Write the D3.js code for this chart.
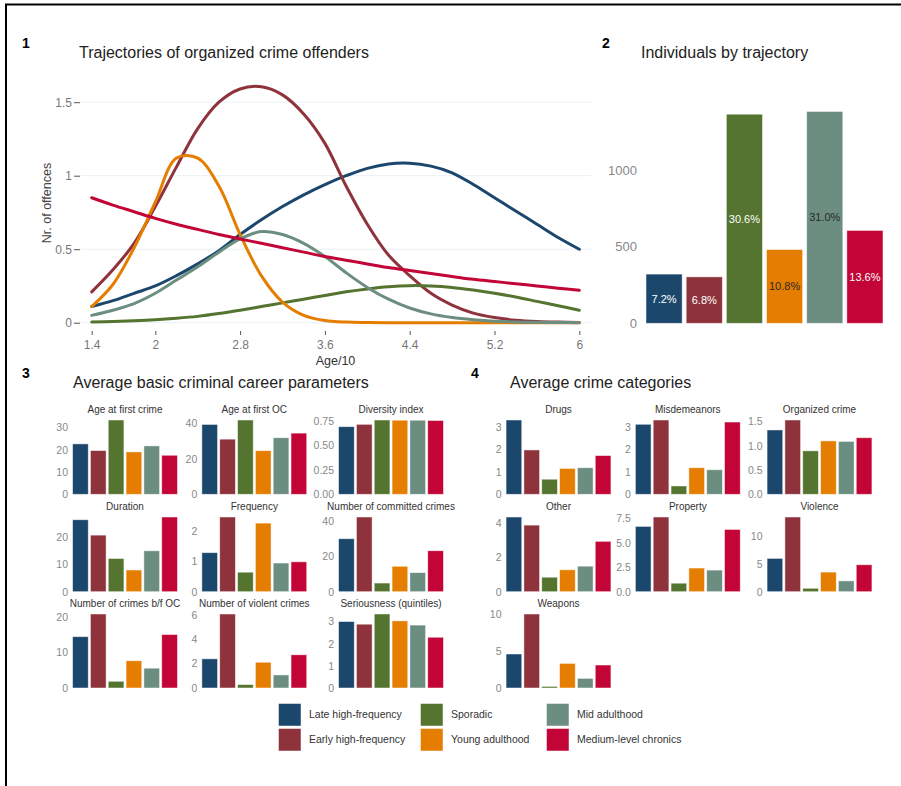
<!DOCTYPE html>
<html>
<head>
<meta charset="utf-8">
<script src="https://cdn.jsdelivr.net/npm/d3@7"></script>
<style>
body { margin: 0; background: #fff; }
svg text { font-family: "Liberation Sans", Arial, sans-serif; }
</style>
</head>
<body>
<div id="chart"></div>
<script>
const width = 901, height = 786;

const groups = ["Late high-frequency", "Early high-frequency", "Sporadic", "Young adulthood", "Mid adulthood", "Medium-level chronics"];
const colors = ["#1c476d", "#8e333c", "#54742f", "#e57e00", "#6c8e80", "#c20436"];

// panel 1: trajectories (Age/10 on x)
const ages = [1.4, 1.6, 1.8, 2.0, 2.2, 2.4, 2.6, 2.8, 3.0, 3.2, 3.4, 3.6, 3.8, 4.0, 4.2, 4.4, 4.6, 4.8, 5.0, 5.2, 5.4, 5.6, 5.8, 6.0];
const lateHighFreq = [0.11, 0.15, 0.20, 0.25, 0.32, 0.40, 0.49, 0.60, 0.70, 0.79, 0.87, 0.94, 1.00, 1.05, 1.08, 1.085, 1.065, 1.02, 0.94, 0.85, 0.76, 0.67, 0.58, 0.50];
const earlyHighFreq = [0.21, 0.36, 0.54, 0.79, 1.06, 1.32, 1.50, 1.59, 1.605, 1.55, 1.42, 1.22, 0.93, 0.67, 0.46, 0.32, 0.20, 0.12, 0.065, 0.035, 0.017, 0.008, 0.004, 0.002];
const sporadic = [0.005, 0.008, 0.013, 0.02, 0.03, 0.043, 0.062, 0.085, 0.11, 0.135, 0.16, 0.185, 0.21, 0.23, 0.245, 0.252, 0.25, 0.24, 0.222, 0.20, 0.175, 0.145, 0.115, 0.085];
const youngAdult = [0.11, 0.26, 0.51, 0.82, 1.12, 1.12, 0.93, 0.60, 0.32, 0.14, 0.05, 0.015, 0.004, 0.001, 0, 0, 0, 0, 0, 0, 0, 0, 0, 0];
const midAdult = [0.05, 0.085, 0.13, 0.20, 0.29, 0.38, 0.48, 0.57, 0.62, 0.60, 0.54, 0.45, 0.34, 0.24, 0.16, 0.10, 0.06, 0.035, 0.02, 0.01, 0.005, 0.003, 0.001, 0];
const mediumChronic = [0.85, 0.80, 0.755, 0.71, 0.67, 0.635, 0.60, 0.57, 0.54, 0.51, 0.48, 0.45, 0.425, 0.40, 0.375, 0.355, 0.335, 0.315, 0.295, 0.28, 0.265, 0.25, 0.235, 0.22];
const trajectories = [lateHighFreq, earlyHighFreq, sporadic, youngAdult, midAdult, mediumChronic];
const ageTicks = [1.4, 2, 2.8, 3.6, 4.4, 5.2, 6];
const offenceTicks = [0, 0.5, 1, 1.5];

// panel 2: individuals
const counts = [321, 303, 1364, 481, 1382, 606];
const countTicks = [0, 500, 1000];

// panel 3: career parameters
const ageFirstCrime = [22.6, 19.6, 33.3, 19.0, 21.7, 17.5];
const ageFirstOC = [39.4, 31.1, 41.9, 24.6, 31.9, 34.5];
const diversity = [0.689, 0.713, 0.757, 0.755, 0.755, 0.752];
const duration = [26.2, 20.6, 12.1, 7.9, 14.9, 27.2];
const frequency = [1.28, 2.45, 0.64, 2.25, 0.94, 0.98];
const nCommitted = [30.0, 42.3, 4.9, 14.4, 10.8, 23.2];
const nBeforeOC = [14.5, 20.9, 1.9, 7.7, 5.6, 15.1];
const nViolent = [2.39, 6.06, 0.28, 2.11, 1.07, 2.72];
const seriousness = [3.0, 2.88, 3.34, 3.03, 2.84, 2.29];

// panel 4: crime categories
const drugs = [3.30, 1.97, 0.67, 1.15, 1.18, 1.72];
const misdemeanors = [3.11, 3.30, 0.37, 1.18, 1.09, 3.21];
const organized = [1.325, 1.53, 0.895, 1.10, 1.09, 1.165];
const other = [4.33, 3.86, 0.84, 1.27, 1.48, 2.92];
const property = [6.68, 7.64, 0.87, 2.42, 2.21, 6.37];
const violence = [6.0, 13.45, 0.62, 3.53, 1.95, 4.85];
const weapons = [4.63, 10.08, 0.22, 3.35, 1.31, 3.13];

const careerFacets = [
  {title: "Age at first crime", values: ageFirstCrime, ticks: [0, 10, 20, 30], fmt: "d"},
  {title: "Age at first OC", values: ageFirstOC, ticks: [0, 20, 40], fmt: "d"},
  {title: "Diversity index", values: diversity, ticks: [0, 0.25, 0.5, 0.75], fmt: ".2f"},
  {title: "Duration", values: duration, ticks: [0, 10, 20], fmt: "d"},
  {title: "Frequency", values: frequency, ticks: [0, 1, 2], fmt: "d"},
  {title: "Number of committed crimes", values: nCommitted, ticks: [0, 20, 40], fmt: "d"},
  {title: "Number of crimes b/f OC", values: nBeforeOC, ticks: [0, 10, 20], fmt: "d"},
  {title: "Number of violent crimes", values: nViolent, ticks: [0, 2, 4, 6], fmt: "d"},
  {title: "Seriousness (quintiles)", values: seriousness, ticks: [0, 1, 2, 3], fmt: "d"}
];
const categoryFacets = [
  {title: "Drugs", values: drugs, ticks: [0, 1, 2, 3], fmt: "d"},
  {title: "Misdemeanors", values: misdemeanors, ticks: [0, 1, 2, 3], fmt: "d"},
  {title: "Organized crime", values: organized, ticks: [0, 0.5, 1, 1.5], fmt: ".1f"},
  {title: "Other", values: other, ticks: [0, 2, 4], fmt: "d"},
  {title: "Property", values: property, ticks: [0, 2.5, 5, 7.5], fmt: ".1f"},
  {title: "Violence", values: violence, ticks: [0, 5, 10], fmt: "d"},
  {title: "Weapons", values: weapons, ticks: [0, 5, 10], fmt: "d"}
];

const svg = d3.select("#chart").append("svg")
  .attr("width", width)
  .attr("height", height);

// frame
svg.append("path")
  .attr("d", "M6,786V4.5H901")
  .attr("fill", "none")
  .attr("stroke", "#000")
  .attr("stroke-width", 2);

function panelHeading(num, x, title, tx, y) {
  svg.append("text").attr("x", x).attr("y", y - 10)
    .attr("font-weight", "bold").style("font-size", "14px").attr("fill", "#000").text(num);
  svg.append("text").attr("x", tx).attr("y", y)
    .style("font-size", "16px").attr("fill", "#222").text(title);
}

// ---------- panel 1 ----------
panelHeading("1", 22, "Trajectories of organized crime offenders", 79, 58);

const x1 = d3.scaleLinear().domain([1.4, 6]).range([91.7, 579.3]);
const y1 = d3.scaleLinear().domain([0, 1.5]).range([322.7, 102.2]);

const p1 = svg.append("g");
p1.selectAll(".grid")
  .data(offenceTicks)
  .join("line")
  .attr("x1", 81).attr("x2", 591)
  .attr("y1", d => y1(d)).attr("y2", d => y1(d))
  .attr("stroke", "#e9eff5");

p1.append("g")
  .attr("transform", "translate(80,0)")
  .call(d3.axisLeft(y1).tickValues(offenceTicks).tickSize(6).tickPadding(2).tickFormat(d3.format("~g")))
  .call(g => g.select(".domain").remove())
  .call(g => g.selectAll("line").attr("stroke", "#555"))
  .call(g => g.selectAll("text").attr("fill", "#777").style("font-size", "12px"));

p1.append("g")
  .attr("transform", "translate(0,331)")
  .call(d3.axisBottom(x1).tickValues(ageTicks).tickSize(4).tickPadding(5).tickFormat(d3.format("~g")))
  .call(g => g.select(".domain").remove())
  .call(g => g.selectAll("line").attr("stroke", "#555"))
  .call(g => g.selectAll("text").attr("fill", "#777").style("font-size", "12px"));

p1.append("text")
  .attr("x", 335.5).attr("y", 365)
  .attr("text-anchor", "middle")
  .style("font-size", "12.5px").attr("fill", "#333")
  .text("Age/10");

p1.append("text")
  .attr("transform", "translate(51,203) rotate(-90)")
  .attr("text-anchor", "middle")
  .style("font-size", "12.5px").attr("fill", "#444")
  .text("Nr. of offences");

const line = d3.line()
  .x((d, i) => x1(ages[i]))
  .y(d => y1(d))
  .curve(d3.curveCatmullRom.alpha(0.5));

p1.selectAll(".traj")
  .data(trajectories)
  .join("path")
  .attr("d", line)
  .attr("fill", "none")
  .attr("stroke", (d, i) => colors[i])
  .attr("stroke-width", 3)
  .attr("stroke-linecap", "round");

// ---------- panel 2 ----------
panelHeading("2", 602, "Individuals by trajectory", 641, 58);

const total = d3.sum(counts);
const x2 = d3.scaleBand().domain(groups).range([644, 885]).paddingInner(0.1).paddingOuter(0.05);
const y2 = d3.scaleLinear().domain([0, 1000]).range([323.3, 170]);

const p2 = svg.append("g");
p2.append("g")
  .attr("transform", "translate(639,0)")
  .call(d3.axisLeft(y2).tickValues(countTicks).tickSize(0).tickPadding(2).tickFormat(d3.format("d")))
  .call(g => g.select(".domain").remove())
  .call(g => g.selectAll("text").attr("fill", "#888").style("font-size", "13px"));

p2.selectAll(".bar")
  .data(counts)
  .join("rect")
  .attr("x", (d, i) => x2(groups[i]))
  .attr("y", d => y2(d))
  .attr("width", x2.bandwidth())
  .attr("height", d => y2(0) - y2(d))
  .attr("fill", (d, i) => colors[i])
  .attr("stroke", "#fff").attr("stroke-opacity", 0.6).attr("stroke-width", 0.8);

p2.selectAll(".lab")
  .data(counts)
  .join("text")
  .attr("x", (d, i) => x2(groups[i]) + x2.bandwidth() / 2)
  .attr("y", d => (y2(d) + y2(0)) / 2)
  .attr("dy", "0.35em")
  .attr("text-anchor", "middle")
  .style("font-size", "11px")
  .attr("fill", (d, i) => (i === 3 || i === 4) ? "#2a2a2a" : "#fff")
  .text(d => d3.format(".1%")(d / total));

// ---------- small multiples ----------
const facetW = 107;
const rowTops = [420, 517, 614];
const rowBottoms = [494.3, 591.7, 688];

function drawFacet(f, x0, row) {
  const g = svg.append("g");
  const x = d3.scaleBand().domain(groups).range([x0, x0 + facetW]).paddingInner(0.12).paddingOuter(0.06);
  const y = d3.scaleLinear().domain([0, d3.max(f.values)]).range([rowBottoms[row], rowTops[row]]);

  g.append("text")
    .attr("x", x0 + facetW / 2).attr("y", rowTops[row] - 7)
    .attr("text-anchor", "middle")
    .style("font-size", "10px").attr("fill", "#333")
    .text(f.title);

  g.append("g")
    .attr("transform", `translate(${x0 - 0.5},0)`)
    .call(d3.axisLeft(y).tickValues(f.ticks).tickSize(0).tickPadding(3).tickFormat(d3.format(f.fmt)))
    .call(a => a.select(".domain").remove())
    .call(a => a.selectAll("text").attr("fill", "#888").style("font-size", "10.5px"));

  g.selectAll("rect")
    .data(f.values)
    .join("rect")
    .attr("x", (d, i) => x(groups[i]))
    .attr("y", d => y(d))
    .attr("width", x.bandwidth())
    .attr("height", d => y(0) - y(d))
    .attr("fill", (d, i) => colors[i])
    .attr("stroke", "#fff").attr("stroke-opacity", 0.6).attr("stroke-width", 0.8);
}

panelHeading("3", 22, "Average basic criminal career parameters", 73, 388);
const careerCols = [71.5, 200.8, 337.5];
careerFacets.forEach((f, i) => drawFacet(f, careerCols[i % 3], Math.floor(i / 3)));

panelHeading("4", 471, "Average crime categories", 510, 388);
const categoryCols = [505, 634.3, 766];
categoryFacets.forEach((f, i) => drawFacet(f, categoryCols[i % 3], Math.floor(i / 3)));

// ---------- legend ----------
const legendCols = [278.5, 420.5, 546.5];
const legendRows = [703.5, 728.5];
const legend = svg.append("g").selectAll("g")
  .data(groups)
  .join("g")
  .attr("transform", (d, i) => `translate(${legendCols[Math.floor(i / 2)]},${legendRows[i % 2]})`);

legend.append("rect")
  .attr("width", 22.5).attr("height", 22.5)
  .attr("fill", (d, i) => colors[i])
  .attr("stroke", "#fff").attr("stroke-opacity", 0.6).attr("stroke-width", 0.8);

legend.append("text")
  .attr("x", 30.5).attr("y", 11.25).attr("dy", "0.35em")
  .style("font-size", "10.5px").attr("fill", "#333")
  .text(d => d);
</script>
</body>
</html>
